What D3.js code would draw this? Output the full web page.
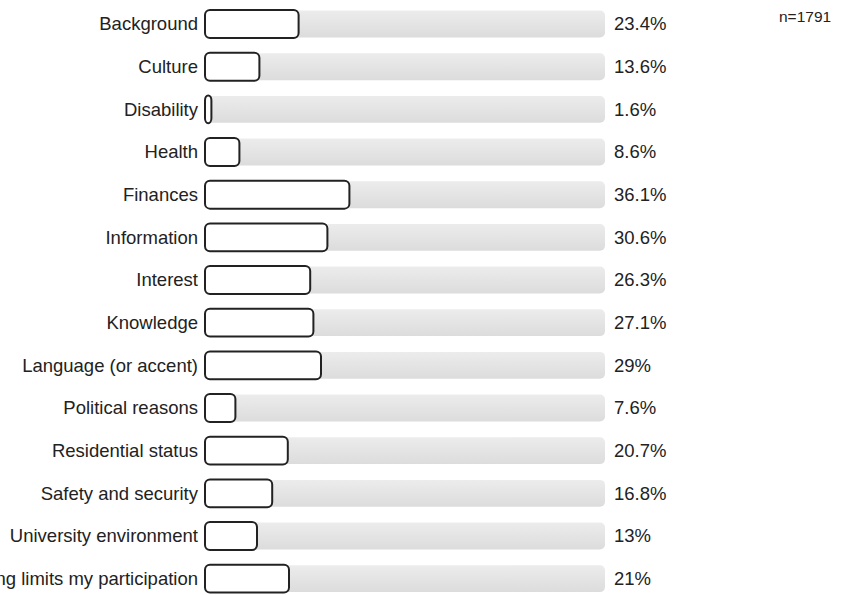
<!DOCTYPE html>
<html>
<head>
<meta charset="utf-8">
<script src="https://cdn.jsdelivr.net/npm/d3@7"></script>
<style>
  html, body { margin: 0; padding: 0; background: #fff; }
  svg { display: block; }
  text { font-family: "Liberation Sans", Arial, sans-serif; }
</style>
</head>
<body>
<svg id="chart" width="850" height="595"></svg>
<script>
// Barriers to participation, share of respondents (%)
const categories = [
  "Background", "Culture", "Disability", "Health", "Finances", "Information",
  "Interest", "Knowledge", "Language (or accent)", "Political reasons",
  "Residential status", "Safety and security", "University environment",
  "Nothing limits my participation"
];
const values = [23.4, 13.6, 1.6, 8.6, 36.1, 30.6, 26.3, 27.1, 29, 7.6, 20.7, 16.8, 13, 21];
const sampleLabel = "n=1791";

const svg = d3.select("#chart");

const defs = svg.append("defs");
const grad = defs.append("linearGradient")
  .attr("id", "track").attr("x1", 0).attr("y1", 0).attr("x2", 0).attr("y2", 1);
grad.append("stop").attr("offset", "0%").attr("stop-color", "#ececec");
grad.append("stop").attr("offset", "100%").attr("stop-color", "#dcdcdc");

const x = d3.scaleLinear().domain([0, 100]).range([205, 605]);
const y = d3.scaleBand().domain(categories).range([2.7, 600]).paddingInner(0.37).paddingOuter(0.185);

const bh = y.bandwidth();

const rows = svg.append("g").selectAll("g")
  .data(categories.map((c, i) => ({ c, v: values[i] })))
  .join("g")
  .attr("transform", d => `translate(0,${y(d.c)})`);

// background track spanning the full 0–100% range
rows.append("rect")
  .attr("x", x(0)).attr("y", 0)
  .attr("width", x(100) - x(0)).attr("height", bh)
  .attr("rx", 5).attr("fill", "url(#track)");

// value bar
rows.append("rect")
  .attr("x", x(0)).attr("y", -0.5)
  .attr("width", d => Math.max(x(d.v) - x(0), 4)).attr("height", bh + 1)
  .attr("rx", 5)
  .attr("fill", "#fff").attr("stroke", "#222").attr("stroke-width", 2);

// category labels
rows.append("text")
  .attr("x", 198).attr("y", bh / 2).attr("dy", "0.35em")
  .attr("text-anchor", "end").attr("font-size", 18.5).attr("fill", "#222")
  .text(d => d.c);

// value labels
rows.append("text")
  .attr("x", 614).attr("y", bh / 2).attr("dy", "0.35em")
  .attr("font-size", 18.5).attr("fill", "#222")
  .text(d => d.v + "%");

svg.append("text")
  .attr("x", 779).attr("y", 21.5)
  .attr("font-size", 15.5).attr("fill", "#222")
  .text(sampleLabel);
</script>
</body>
</html>
